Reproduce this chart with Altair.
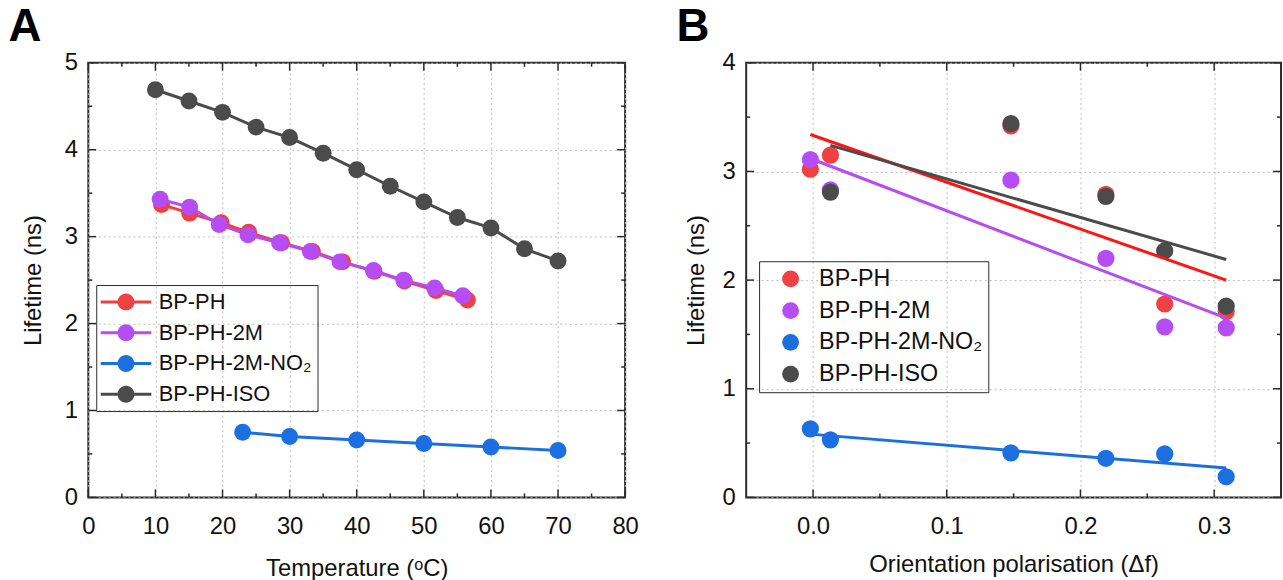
import altair as alt
import pandas as pd

FONT = "Liberation Sans"
SPINE = "#2b2b2b"
TXT = "#111111"

series = ["BP-PH", "BP-PH-2M", "BP-PH-2M-NO₂", "BP-PH-ISO"]
colors = ["#ef4141", "#b54cf4", "#1c6fe0", "#4b4b4b"]
fit_colors = ["#ff1414", "#b54cf4", "#1c6fe0", "#4b4b4b"]

# ---------------- Panel A : lifetime vs temperature ----------------
a_ph_x = [10.9, 15.1, 19.8, 23.9, 28.8, 33.4, 37.9, 42.6, 47.1, 51.8, 56.5]
a_ph_y = [3.37, 3.27, 3.16, 3.05, 2.93, 2.83, 2.71, 2.60, 2.49, 2.38, 2.27]
a_2m_x = [10.7, 15.1, 19.5, 23.8, 28.5, 33.1, 37.5, 42.5, 47.0, 51.6, 55.8]
a_2m_y = [3.43, 3.34, 3.14, 3.02, 2.93, 2.83, 2.71, 2.61, 2.50, 2.41, 2.32]
a_no2_x = [23, 30, 40, 50, 60, 70]
a_no2_y = [0.75, 0.70, 0.66, 0.62, 0.58, 0.54]
a_iso_x = [10, 15, 20, 25, 30, 35, 40, 45, 50, 55, 60, 65, 70]
a_iso_y = [4.69, 4.56, 4.43, 4.26, 4.14, 3.96, 3.77, 3.58, 3.40, 3.22, 3.10, 2.86, 2.72]

# ---------------- Panel B : lifetime vs orientation polarisation ----------------
b_x = [-0.002, 0.013, 0.148, 0.219, 0.263, 0.309]
b_ph_y = [3.02, 3.15, 3.42, 2.79, 1.78, 1.71]
b_2m_y = [3.11, 2.83, 2.92, 2.20, 1.57, 1.56]
b_no2_y = [0.63, 0.53, 0.41, 0.36, 0.40, 0.19]
b_iso_x = [0.013, 0.148, 0.219, 0.263, 0.309]
b_iso_y = [2.81, 3.44, 2.77, 2.27, 1.76]

# linear-fit lines (end points)
fit_ph_x, fit_ph_y = [-0.002, 0.309], [3.34, 2.00]
fit_2m_x, fit_2m_y = [0.0, 0.309], [3.11, 1.65]
fit_no2_x, fit_no2_y = [0.0, 0.309], [0.58, 0.27]
fit_iso_x, fit_iso_y = [0.013, 0.309], [3.24, 2.19]

# axis ticks
a_x_major = [0, 10, 20, 30, 40, 50, 60, 70, 80]
a_x_minor = [5, 15, 25, 35, 45, 55, 65, 75]
a_y_major = [0, 1, 2, 3, 4, 5]
a_y_minor = [0.5, 1.5, 2.5, 3.5, 4.5]
b_x_major = [0.0, 0.1, 0.2, 0.3]
b_x_minor = [0.05, 0.15, 0.25]
b_y_major = [0, 1, 2, 3, 4]
b_y_minor = [0.5, 1.5, 2.5, 3.5]

W_A, W_B, H = 541, 539, 438


def long_df(names, xs_list, ys_list):
    rows = []
    for name, xs, ys in zip(names, xs_list, ys_list):
        for x, y in zip(xs, ys):
            rows.append({"series": name, "x": x, "y": y})
    return pd.DataFrame(rows)


def tick_layers(xscale, yscale, xaxis, yaxis, xmaj, xmin, ymaj, ymin, W, H):
    layers = []
    for vals, L in ((xmaj, 8), (xmin, 4)):
        base = alt.Chart(pd.DataFrame({"v": vals})).mark_rule(color=SPINE, strokeWidth=1.5)
        xe = alt.X("v:Q", scale=xscale, axis=xaxis)
        layers.append(base.encode(x=xe, y=alt.value(H), y2=alt.value(H - L)))
        layers.append(base.encode(x=xe, y=alt.value(0), y2=alt.value(L)))
    for vals, L in ((ymaj, 8), (ymin, 4)):
        base = alt.Chart(pd.DataFrame({"v": vals})).mark_rule(color=SPINE, strokeWidth=1.5)
        ye = alt.Y("v:Q", scale=yscale, axis=yaxis)
        layers.append(base.encode(y=ye, x=alt.value(0), x2=alt.value(L)))
        layers.append(base.encode(y=ye, x=alt.value(W), x2=alt.value(W - L)))
    return layers


color_a = alt.Scale(domain=series, range=colors)
color_b = alt.Scale(domain=series, range=colors)

# ---------- Panel A ----------
xs_a = alt.Scale(domain=[0, 80], nice=False, zero=False)
ys_a = alt.Scale(domain=[0, 5], nice=False)
df_a = long_df(series, [a_ph_x, a_2m_x, a_no2_x, a_iso_x], [a_ph_y, a_2m_y, a_no2_y, a_iso_y])

ax_a_x = alt.Axis(values=a_x_major, title="Temperature (ᵒC)", titlePadding=19, labelPadding=17)
ax_a_y = alt.Axis(values=a_y_major, title="Lifetime (ns)", titlePadding=19, labelPadding=11)

legend_path = ("M-3,-0.18 L3,-0.18 L3,0.18 L-3,0.18 Z "
               "M-1,0 A1,1 0 1,1 1,0 A1,1 0 1,1 -1,0 Z")
legend_a = alt.Legend(
    title=None, orient="none", legendX=8, legendY=224,
    symbolType=legend_path, symbolSize=289, symbolStrokeWidth=0, symbolOpacity=1,
    symbolOffset=13, labelOffset=22, padding=6, rowPadding=9,
    strokeColor=SPINE, labelFontSize=22, labelFont=FONT, labelColor=TXT,
    labelLimit=400,
)

layers_a = []
for name, col in zip(series, colors):
    sub = df_a[df_a.series == name]
    base = alt.Chart(sub)
    layers_a.append(base.mark_line(strokeWidth=3, color=col).encode(
        x=alt.X("x:Q", scale=xs_a, axis=ax_a_x),
        y=alt.Y("y:Q", scale=ys_a, axis=ax_a_y),
    ))
    layers_a.append(base.mark_circle(size=290, opacity=1).encode(
        x=alt.X("x:Q", scale=xs_a, axis=ax_a_x),
        y=alt.Y("y:Q", scale=ys_a, axis=ax_a_y),
        color=alt.Color("series:N", scale=color_a, legend=legend_a),
    ))

chart_a = alt.layer(
    *tick_layers(xs_a, ys_a, ax_a_x, ax_a_y, a_x_major, a_x_minor, a_y_major, a_y_minor, W_A, H),
    *layers_a,
).properties(
    width=W_A, height=H,
    title=alt.TitleParams("A", anchor="start", frame="bounds", fontSize=46,
                          fontWeight="bold", font=FONT, color="#000", offset=0, dx=-13),
)

# ---------- Panel B ----------
xs_b = alt.Scale(domain=[-0.05, 0.35], nice=False, zero=False)
ys_b = alt.Scale(domain=[0, 4], nice=False)
df_b = long_df(series, [b_x, b_x, b_x, b_iso_x], [b_ph_y, b_2m_y, b_no2_y, b_iso_y])
df_fit = long_df(series, [fit_ph_x, fit_2m_x, fit_no2_x, fit_iso_x],
                 [fit_ph_y, fit_2m_y, fit_no2_y, fit_iso_y])

ax_b_x = alt.Axis(values=b_x_major, format=".1f", title="Orientation polarisation (Δf)",
                  titlePadding=15, labelPadding=17)
ax_b_y = alt.Axis(values=b_y_major, title="Lifetime (ns)", titlePadding=14, labelPadding=11)

legend_b = alt.Legend(
    title=None, orient="none", legendX=13, legendY=200,
    symbolType="circle", symbolSize=289, symbolStrokeWidth=0, symbolOpacity=1,
    symbolOffset=14, labelOffset=17, padding=6, rowPadding=7,
    strokeColor=SPINE, labelFontSize=23.5, labelFont=FONT, labelColor=TXT,
    labelLimit=400,
)

layers_b = []
for name in series:
    sub = df_b[df_b.series == name]
    layers_b.append(alt.Chart(sub).mark_circle(size=300, opacity=1).encode(
        x=alt.X("x:Q", scale=xs_b, axis=ax_b_x),
        y=alt.Y("y:Q", scale=ys_b, axis=ax_b_y),
        color=alt.Color("series:N", scale=color_b, legend=legend_b),
    ))
fit_layers = []
for name, col in zip(series, fit_colors):
    sub = df_fit[df_fit.series == name]
    fit_layers.append(alt.Chart(sub).mark_line(strokeWidth=3, color=col).encode(
        x=alt.X("x:Q", scale=xs_b, axis=ax_b_x),
        y=alt.Y("y:Q", scale=ys_b, axis=ax_b_y),
    ))

chart_b = alt.layer(
    *tick_layers(xs_b, ys_b, ax_b_x, ax_b_y, b_x_major, b_x_minor, b_y_major, b_y_minor, W_B, H),
    *layers_b,
    *fit_layers,
).properties(
    width=W_B, height=H,
    title=alt.TitleParams("B", anchor="start", frame="bounds", fontSize=46,
                          fontWeight="bold", font=FONT, color="#000", offset=0, dx=-8),
)

chart = alt.hconcat(chart_a, chart_b, spacing=35).resolve_scale(
    color="independent"
).resolve_legend(color="independent").properties(
    padding={"left": 7, "top": 1, "right": 0, "bottom": 0},
    background="white",
).configure_view(
    stroke=SPINE, strokeWidth=2,
).configure_axis(
    labelFont=FONT, titleFont=FONT, labelFontSize=24, titleFontSize=24,
    titleFontWeight="normal", labelColor=TXT, titleColor=TXT,
    grid=True, gridDash=[2, 3], gridColor="#bdbdbd", gridWidth=1,
    domain=False, ticks=False, labelFlush=False,
)

chart.save("out.html", embed_options={"renderer": "svg", "actions": False})
